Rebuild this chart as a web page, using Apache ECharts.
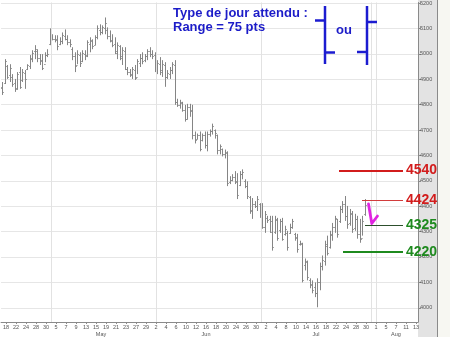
<!DOCTYPE html>
<html><head><meta charset="utf-8">
<script src="https://cdn.jsdelivr.net/npm/echarts@6/dist/echarts.min.js"></script>
<style>html,body{margin:0;padding:0;background:#fff}#c{width:450px;height:337px}</style>
</head><body><div id="c"></div>
<script>
// Trading days shown on the axis (2 half-day bars per trading day)
const tradingDates = [
 '2008-04-17','2008-04-18','2008-04-21','2008-04-22','2008-04-23','2008-04-24','2008-04-25','2008-04-28','2008-04-29','2008-04-30',
 '2008-05-02','2008-05-05','2008-05-06','2008-05-07','2008-05-08','2008-05-09','2008-05-12','2008-05-13','2008-05-14','2008-05-15','2008-05-16',
 '2008-05-19','2008-05-20','2008-05-21','2008-05-22','2008-05-23','2008-05-26','2008-05-27','2008-05-28','2008-05-29','2008-05-30',
 '2008-06-02','2008-06-03','2008-06-04','2008-06-05','2008-06-06','2008-06-09','2008-06-10','2008-06-11','2008-06-12','2008-06-13',
 '2008-06-16','2008-06-17','2008-06-18','2008-06-19','2008-06-20','2008-06-23','2008-06-24','2008-06-25','2008-06-26','2008-06-27','2008-06-30',
 '2008-07-01','2008-07-02','2008-07-03','2008-07-04','2008-07-07','2008-07-08','2008-07-09','2008-07-10','2008-07-11',
 '2008-07-14','2008-07-15','2008-07-16','2008-07-17','2008-07-18','2008-07-21','2008-07-22','2008-07-23','2008-07-24','2008-07-25',
 '2008-07-28','2008-07-29','2008-07-30','2008-07-31',
 '2008-08-01','2008-08-04','2008-08-05','2008-08-06','2008-08-07','2008-08-08','2008-08-11','2008-08-12','2008-08-13'
];
const monthNames = ['Jan','Feb','Mar','Apr','May','Jun','Jul','Aug','Sep','Oct','Nov','Dec'];
const markerDate = '2008-07-31';

const highs = [4901,4889,4979,4956,4959,4920,4901,4928,4948,4940,4936,4959,4995,5014,5034,5018,4999,4999,5006,5018,
 5100,5077,5073,5073,5065,5084,5096,5073,5057,5026,5006,5014,5006,5014,5014,5053,5065,5057,5073,5112,
 5116,5112,5143,5104,5092,5077,5065,5045,5034,5026,5026,4948,4940,4948,4956,4979,4999,5006,4999,5018,
 5026,5014,5006,4975,4987,4975,4967,4936,4948,4967,4975,4823,4819,4811,4799,4803,4803,4799,4694,4686,
 4694,4686,4694,4694,4702,4725,4702,4682,4643,4627,4623,4616,4518,4526,4538,4530,4538,4545,4506,4498,
 4440,4432,4420,4440,4412,4412,4381,4362,4362,4362,4362,4354,4350,4354,4323,4303,4331,4350,4295,4291,
 4264,4256,4194,4186,4116,4108,4100,4116,4178,4206,4264,4284,4303,4334,4362,4350,4401,4420,4440,4401,
 4389,4381,4370,4362,4350,4362,4428];
const lows = [4862,4838,4881,4901,4889,4870,4850,4858,4862,4889,4862,4936,4940,4967,4979,4967,4956,4936,4967,4987,
 5034,5053,5045,5014,5034,5038,5053,5034,5026,4975,4928,4959,4948,4967,4975,4987,5006,5018,5034,5057,
 5073,5077,5077,5057,5045,5026,4999,4979,4975,4956,4936,4916,4909,4901,4897,4920,4948,4959,4967,4975,
 4987,4979,4928,4920,4916,4909,4870,4901,4901,4920,4799,4791,4784,4772,4733,4741,4752,4663,4647,4663,
 4616,4655,4627,4616,4674,4682,4666,4604,4604,4596,4588,4479,4487,4498,4487,4428,4479,4506,4471,4428,
 4370,4350,4393,4381,4354,4311,4295,4334,4295,4225,4291,4264,4295,4264,4284,4225,4291,4311,4264,4217,
 4245,4100,4147,4108,4077,4057,4042,4002,4069,4147,4166,4206,4233,4264,4295,4276,4334,4373,4342,4311,
 4323,4295,4303,4272,4256,4284,4362];
const opens = [4880,4865,4885,4950,4915,4910,4885,4865,4930,4895,4925,4940,4950,4980,5010,5010,4985,4975,4960,4995,
 5040,5065,5060,5060,5040,5050,5070,5060,5045,5020,4990,4955,4995,4970,5000,4995,5040,5050,5035,5065,
 5095,5085,5100,5095,5070,5055,5040,5010,5030,4990,5010,4940,4930,4920,4935,4910,4965,4985,4975,4990,
 5010,5000,4995,4940,4960,4935,4955,4910,4920,4935,4955,4810,4800,4805,4780,4745,4790,4780,4680,4665,
 4680,4660,4680,4640,4685,4695,4700,4680,4620,4625,4605,4610,4495,4505,4515,4500,4485,4525,4500,4480,
 4435,4385,4410,4400,4410,4370,4320,4355,4350,4340,4300,4345,4305,4340,4290,4295,4295,4320,4290,4280,
 4250,4250,4170,4180,4110,4095,4080,4060,4100,4165,4185,4245,4240,4285,4320,4350,4340,4390,4410,4360,
 4335,4370,4315,4350,4290,4275,4370];
const closes = [4870,4850,4970,4910,4945,4880,4860,4920,4870,4930,4900,4955,4985,5005,5020,4985,4970,4945,4995,5000,
 5060,5060,5055,5030,5050,5075,5060,5045,5040,4990,4950,5000,4965,5005,4990,5045,5055,5030,5065,5100,
 5085,5105,5120,5070,5050,5035,5005,5035,4985,5015,4940,4930,4915,4940,4905,4970,4985,4970,4990,5010,
 5000,4990,4945,4965,4930,4960,4910,4925,4935,4960,4810,4800,4810,4780,4745,4790,4775,4680,4660,4680,
 4625,4680,4640,4685,4695,4715,4690,4620,4635,4605,4615,4490,4505,4515,4495,4445,4525,4535,4480,4440,
 4380,4410,4400,4430,4365,4320,4370,4345,4300,4240,4350,4275,4340,4270,4310,4240,4320,4340,4275,4230,
 4255,4110,4185,4120,4090,4070,4060,4100,4165,4190,4250,4215,4290,4320,4355,4290,4390,4410,4360,4330,
 4375,4310,4350,4290,4270,4340,4405];

// Support / resistance levels
const levels = [4540, 4424, 4325, 4220];
const levelFrom = [67.6, 72.2, 72.8, 68.4];   // trading-day index where each level starts
const levelTo = 80.4;
const yTickValues = [4000,4100,4200,4300,4400,4500,4600,4700,4800,4900,5000,5100,5200];
const titleLine1 = 'Type de jour attendu :';
const titleLine2 = 'Range = 75 pts';
const orText = 'ou';

// ---- derived helpers ----
const dayNum = tradingDates.map(d => String(parseInt(d.slice(8), 10)));
const labelIdx = tradingDates.map((d, i) => i).filter(i => i % 2 === 1);
const monthStarts = [], monthCenters = {}, monthCenterVals = [];
let start = 0;
for (let i = 1; i <= tradingDates.length; i++) {
  if (i === tradingDates.length || tradingDates[i].slice(5, 7) !== tradingDates[i - 1].slice(5, 7)) {
    if (start > 0) monthStarts.push(start);
    const m = parseInt(tradingDates[start].slice(5, 7), 10) - 1;
    if (start > 0) { const c = Math.round((start + i - 1) / 2); monthCenters[c] = monthNames[m]; monthCenterVals.push(c); }
    start = i;
  }
}
const markerIdx = tradingDates.indexOf(markerDate);
const bars = highs.map((h, k) => [k / 2 - 0.25, opens[k], h, lows[k], closes[k]]);
const lastClose = closes[closes.length - 1];

const levelColors = ['#d21c1c', '#d21c1c', '#1e8a1e', '#1e8a1e'];
const levelLineColors = ['#d21c1c', '#d23c3c', '#2d4f2d', '#1e8a1e'];
const levelWidths = [2, 1, 1, 2];
const FONT = 'Liberation Sans';

const chart = echarts.init(document.getElementById('c'), null, { renderer: 'canvas' });
const X_MAX = 83.4;
const option = {
  animation: false,
  backgroundColor: '#ffffff',
  grid: { left: 1, right: 32, top: 0, bottom: 15 },
  xAxis: [{
    type: 'value', min: 0, max: X_MAX, position: 'bottom',
    axisLine: { show: true, onZero: false, lineStyle: { color: '#8a8a8a', width: 1 } },
    axisTick: { show: true, customValues: labelIdx, length: 2, lineStyle: { color: '#8a8a8a' } },
    axisLabel: { customValues: labelIdx, formatter: v => dayNum[Math.round(v)] || '', fontSize: 5.5, color: '#555', margin: 2, fontFamily: FONT },
    splitLine: { show: false }
  }, {
    type: 'value', min: 0, max: X_MAX, position: 'bottom', offset: 7,
    axisLine: { show: false, onZero: false }, axisTick: { show: false },
    axisLabel: { customValues: monthCenterVals, formatter: v => monthCenters[Math.round(v)] || '', fontSize: 5.5, color: '#555', margin: 2, fontFamily: FONT },
    splitLine: { show: false }
  }],
  yAxis: {
    type: 'value', position: 'right', min: 3944, max: 5202,
    axisLine: { show: true, onZero: false, lineStyle: { color: '#8a8a8a' } },
    axisTick: { show: true, customValues: yTickValues, length: 3, lineStyle: { color: '#8a8a8a' } },
    axisLabel: { customValues: yTickValues, formatter: v => String(v), fontSize: 5.5, color: '#555', margin: 2, fontFamily: FONT },
    splitLine: { show: true, lineStyle: { color: '#e6e6e6', width: 1 } }
  },
  series: [{
    type: 'custom',
    data: bars,
    encode: { x: 0, y: [1, 2, 3, 4] },
    clip: true,
    renderItem: function (params, api) {
      const x = api.value(0);
      const ph = api.coord([x, api.value(2)]);
      const pl = api.coord([x, api.value(3)]);
      const po = api.coord([x, api.value(1)]);
      const pc = api.coord([x, api.value(4)]);
      const w = api.size([0.25, 0])[0];
      const X = Math.round(ph[0]) + 0.5;
      const st = { stroke: '#858585', lineWidth: 1 };
      return { type: 'group', children: [
        { type: 'line', shape: { x1: X, y1: ph[1], x2: X, y2: pl[1] }, style: st },
        { type: 'line', shape: { x1: X - w, y1: Math.round(po[1]) + 0.5, x2: X, y2: Math.round(po[1]) + 0.5 }, style: st },
        { type: 'line', shape: { x1: X, y1: Math.round(pc[1]) + 0.5, x2: X + w, y2: Math.round(pc[1]) + 0.5 }, style: st }
      ] };
    }
  }, {
    type: 'line', data: [], silent: true, symbol: 'none',
    markLine: {
      silent: true, symbol: ['none', 'none'], animation: false,
      data: [
        ...monthStarts.concat([markerIdx]).map(i => ({ xAxis: i, lineStyle: { color: '#e2e2e2', width: 1, type: 'solid' }, label: { show: false } })),
        ...levels.map((lv, j) => [
          { coord: [levelFrom[j], lv], lineStyle: { color: levelLineColors[j], width: levelWidths[j], type: 'solid' },
            label: { show: true, position: 'end', formatter: String(lv), color: levelColors[j], fontSize: 14, fontWeight: 'bold', fontFamily: FONT, distance: 3 } },
          { coord: [levelTo, lv] }
        ]),
        { yAxis: lastClose, lineStyle: { opacity: 0 },
          label: { show: true, position: 'end', formatter: lastClose.toFixed(2), backgroundColor: '#f0b030', color: '#333', fontSize: 5, fontFamily: FONT, padding: [1, 1], distance: 1 } }
      ]
    }
  }],
  graphic: [
    { type: 'rect', z: -10, silent: true, shape: { x: 418, y: 0, width: 19, height: 337 }, style: { fill: '#e3e3e3' } },
    { type: 'rect', z: -10, silent: true, shape: { x: 437, y: 0, width: 13, height: 337 }, style: { fill: '#f7f7f2' } },
    { type: 'line', z: -9, silent: true, shape: { x1: 437.5, y1: 0, x2: 437.5, y2: 337 }, style: { stroke: '#8a8a8a', lineWidth: 1 } },
    { type: 'text', z: 100, style: { text: titleLine1, x: 173, y: 13.2, fill: '#1c1cc8', font: 'bold 13px "Liberation Sans"', textVerticalAlign: 'middle', verticalAlign: 'middle' } },
    { type: 'text', z: 100, style: { text: titleLine2, x: 173, y: 27.3, fill: '#1c1cc8', font: 'bold 13px "Liberation Sans"', textVerticalAlign: 'middle', verticalAlign: 'middle' } },
    { type: 'text', z: 100, style: { text: orText, x: 336, y: 30.5, fill: '#1c1cc8', font: 'bold 13px "Liberation Sans"', textVerticalAlign: 'middle', verticalAlign: 'middle' } },
    // blue OHLC legend glyphs
    { type: 'polyline', z: 100, shape: { points: [[325, 6], [325, 64]] }, style: { stroke: '#1c1cd0', lineWidth: 2.5, fill: null } },
    { type: 'polyline', z: 100, shape: { points: [[315, 20.5], [325, 20.5]] }, style: { stroke: '#1c1cd0', lineWidth: 2.5, fill: null } },
    { type: 'polyline', z: 100, shape: { points: [[325, 52.5], [335, 52.5]] }, style: { stroke: '#1c1cd0', lineWidth: 2.5, fill: null } },
    { type: 'polyline', z: 100, shape: { points: [[367, 6], [367, 65]] }, style: { stroke: '#1c1cd0', lineWidth: 2.5, fill: null } },
    { type: 'polyline', z: 100, shape: { points: [[357, 52], [367, 52]] }, style: { stroke: '#1c1cd0', lineWidth: 2.5, fill: null } },
    { type: 'polyline', z: 100, shape: { points: [[367, 22], [377, 22]] }, style: { stroke: '#1c1cd0', lineWidth: 2.5, fill: null } },
    // magenta hand-drawn arrow
    { type: 'polyline', z: 100, shape: { points: [[368.5, 204], [371.8, 223.5], [377.5, 216]] }, style: { stroke: '#e024e0', lineWidth: 2.8, fill: null, lineJoin: 'round', lineCap: 'round' } }
  ]
};
chart.setOption(option);
</script>
</body></html>
